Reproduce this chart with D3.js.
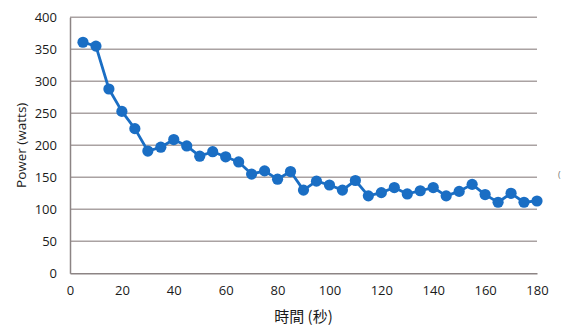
<!DOCTYPE html>
<html>
<head>
<meta charset="utf-8">
<script src="https://cdn.jsdelivr.net/npm/d3@7"></script>
<style>
  html, body { margin: 0; padding: 0; background: #fff; }
  svg { display: block; }
  text { font-family: "Open Sans", "Noto Sans", sans-serif; }
</style>
</head>
<body>
<script>
// Time in seconds and measured power output in watts
const seconds = [5, 10, 15, 20, 25, 30, 35, 40, 45, 50, 55, 60,
                 65, 70, 75, 80, 85, 90, 95, 100, 105, 110, 115, 120,
                 125, 130, 135, 140, 145, 150, 155, 160, 165, 170, 175, 180];
const watts = [361, 355, 288, 253, 226, 191, 197, 209, 199, 183, 190, 182,
               174, 155, 160, 147, 159, 130, 144, 138, 130, 145, 121, 126,
               134, 124, 129, 134, 121, 128, 139, 123, 111, 125, 111, 113];
const xTicks = [0, 20, 40, 60, 80, 100, 120, 140, 160, 180];
const yTicks = [0, 50, 100, 150, 200, 250, 300, 350, 400];
const xTitle = "時間 (秒)";
const yTitle = "Power (watts)";

const W = 569, H = 332;
const margin = { left: 70, right: 32, top: 17.3, bottom: 58.7 };
const innerW = W - margin.left - margin.right;
const innerH = H - margin.top - margin.bottom;

const svg = d3.select("body").append("svg").attr("width", W).attr("height", H);
const g = svg.append("g").attr("transform", `translate(${margin.left},${margin.top})`);

const x = d3.scaleLinear().domain([0, 180]).range([0, innerW]);
const y = d3.scaleLinear().domain([0, 400]).range([innerH, 0]);

// horizontal gridlines
g.append("g").selectAll("line")
  .data(yTicks.filter(d => d > 0))
  .join("line")
  .attr("x1", 0).attr("x2", innerW)
  .attr("y1", d => y(d)).attr("y2", d => y(d))
  .attr("stroke", "#aaa2a2").attr("stroke-width", 1.5);

// y axis
const yAxis = g.append("g")
  .call(d3.axisLeft(y).tickValues(yTicks).tickSize(0).tickPadding(13));
yAxis.select(".domain").attr("stroke", "#8c8484").attr("stroke-width", 1.5);
yAxis.selectAll("text").style("font-size", "13px").style("fill", "#1a1a1a");

// x axis
const xAxis = g.append("g").attr("transform", `translate(0,${innerH})`)
  .call(d3.axisBottom(x).tickValues(xTicks).tickSize(0).tickPadding(12));
xAxis.select(".domain").attr("stroke", "#8c8484").attr("stroke-width", 1.5);
xAxis.selectAll("text").style("font-size", "13px").style("fill", "#1a1a1a");

// series line
const data = seconds.map((s, i) => ({ s, w: watts[i] }));
g.append("path")
  .datum(data)
  .attr("fill", "none")
  .attr("stroke", "#1a6ec4")
  .attr("stroke-width", 2.8)
  .attr("stroke-linejoin", "round")
  .attr("d", d3.line().x(d => x(d.s)).y(d => y(d.w)));

// markers
g.append("g").selectAll("circle")
  .data(data)
  .join("circle")
  .attr("cx", d => x(d.s))
  .attr("cy", d => y(d.w))
  .attr("r", 5.6)
  .attr("fill", "#1a6ec4");

// axis titles
svg.append("text")
  .attr("x", margin.left + innerW / 2)
  .attr("y", 322)
  .attr("text-anchor", "middle")
  .style("font-family", "'Noto Sans CJK TC', 'Noto Sans', sans-serif")
  .style("font-size", "15px")
  .style("fill", "#1a1a1a")
  .text(xTitle);

svg.append("text")
  .attr("transform", `translate(26,${margin.top + innerH / 2}) rotate(-90)`)
  .attr("text-anchor", "middle")
  .style("font-size", "13.5px")
  .style("fill", "#1a1a1a")
  .text(yTitle);

// edge of the legend, cut off by the chart border
svg.append("text")
  .attr("x", 558).attr("y", 178)
  .style("font-size", "9px")
  .style("fill", "#777")
  .text("(");
</script>
</body>
</html>
